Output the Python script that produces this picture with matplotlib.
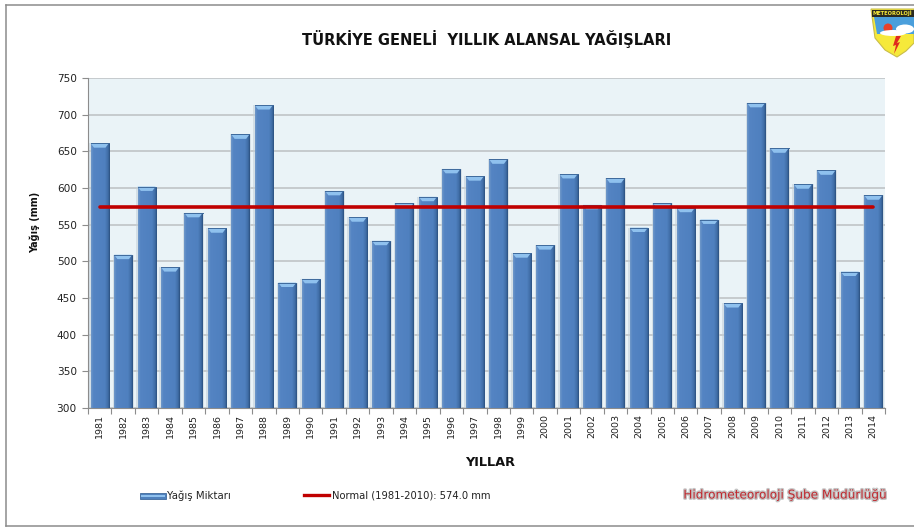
import numpy as np
import matplotlib
matplotlib.use('Agg')
import matplotlib.pyplot as plt
from matplotlib.colors import LinearSegmentedColormap
from matplotlib.patches import Polygon, Rectangle, PathPatch, Ellipse, Circle
from matplotlib.path import Path
import matplotlib.patheffects as pe

# Data
years = list(range(1981, 2015))
rain = [661, 509, 602, 492, 566, 545, 673, 713, 471, 476, 596, 560, 528, 579, 588, 626, 616,
        639, 511, 522, 619, 577, 613, 546, 579, 573, 557, 443, 716, 654, 605, 624, 486, 590]
normal = 574.0
y_ticks = [300, 350, 400, 450, 500, 550, 600, 650, 700, 750]

W, H = 914, 528
plt.rcParams['font.family'] = 'DejaVu Sans'
fig = plt.figure(figsize=(W / 100, H / 100), dpi=100, facecolor='white')


# pixel box (top-left origin) to figure fractions
def box(x0, y0, x1, y1):
    return [x0 / W, 1 - y1 / H, (x1 - x0) / W, (y1 - y0) / H]


# outer chart frame, the right side falls outside the picture
for xs, ys in [((6, 6), (5, 526)), ((6, 914), (5, 5)), ((6, 914), (526, 526))]:
    fig.add_artist(plt.Line2D([x / W for x in xs], [1 - y / H for y in ys], transform=fig.transFigure,
                              color='#8c8c8c', linewidth=1.1))

ax = fig.add_axes(box(88, 78, 885, 408))
ax.set_facecolor('#eaf3f7')
ax.set_yticks(y_ticks)
ax.grid(axis='y', color='#bcc0c2', linewidth=1.1, zorder=1)
ax.set_axisbelow(True)
ax.set_xticks(np.arange(len(years)), labels=[str(y) for y in years], rotation=90, fontsize=6.8, color='#222222')
ax.set_xticks(np.arange(len(years) + 1) - 0.5, minor=True)
ax.tick_params(axis='x', which='major', length=0, pad=4)
ax.tick_params(axis='x', which='minor', length=4, color='#8c8c8c', width=0.8)
ax.tick_params(axis='y', length=4, color='#8c8c8c', width=0.8, labelsize=7.6, labelcolor='#222222', pad=4)
for name in ['top', 'right']:
    ax.spines[name].set_visible(False)
for name in ['left', 'bottom']:
    ax.spines[name].set_color('#8c8c8c')
    ax.spines[name].set_linewidth(0.8)

# bars with a sideways shade and a light cap
shade = LinearSegmentedColormap.from_list('bar', [(0, '#6d96c8'), (0.12, '#5484c3'), (0.75, '#4f80bf'),
                                                  (0.92, '#3f6ca4'), (1, '#2d5382')])
grad = np.linspace(0, 1, 32).reshape(1, -1)
cap = 6.0
values = np.array(rain) - 300
ax.bar(range(len(years)), values, bottom=300, width=0.9, color='#c3d0d8', alpha=0.55, zorder=1.5)
bars = ax.bar(range(len(years)), values, bottom=300, width=0.77, color='#4f81bd', zorder=2)
for b in bars:
    x0, x1 = b.get_x(), b.get_x() + b.get_width()
    top = b.get_y() + b.get_height()
    im = ax.imshow(grad, extent=(x0, x1, 300, top), aspect='auto', cmap=shade, zorder=3)
    im.set_clip_path(b)
    inset = 0.18 * (x1 - x0)
    ax.add_patch(Polygon([(x0, top), (x1, top), (x1 - inset, top - cap), (x0 + inset, top - cap)],
                         closed=True, facecolor='#8fc1ee', edgecolor='none', zorder=4))
    ax.plot([x0, x1], [top, top], color='#3f6a9c', linewidth=0.7, zorder=5)
ax.set_xlim(-0.5, len(years) - 0.5)
ax.set_ylim(300, 750)

ax.plot([0, len(years) - 1], [normal, normal], color='#c00000', linewidth=2.6, solid_capstyle='round', zorder=6)


def ftext(x, y, s, **kw):
    return fig.text(x / W, 1 - y / H, s, va='center', **kw)


ftext(35, 222, 'Yağış (mm)', ha='center', rotation=90, fontsize=7.0, fontweight='bold', color='#111111')
ftext(487, 39, 'TÜRKİYE GENELİ  YILLIK ALANSAL YAĞIŞLARI', ha='center', fontsize=10.5,
      fontweight='bold', color='#111111')
ftext(490, 463, 'YILLAR', ha='center', fontsize=9.3, fontweight='bold', color='#111111')

# legend by hand so it sits like the original
fig.add_artist(Rectangle((140 / W, 1 - 499 / H), 26 / W, 6 / H, transform=fig.transFigure,
                         facecolor='#4f81bd', edgecolor='#3f6a9c', linewidth=0.6))
fig.add_artist(Rectangle((141 / W, 1 - 496.5 / H), 24 / W, 1.5 / H, transform=fig.transFigure,
                         facecolor='#8fc1ee', edgecolor='none'))
ftext(167, 496, 'Yağış Miktarı', ha='left', fontsize=7.3, color='#222222')
fig.add_artist(plt.Line2D([304 / W, 329 / W], [1 - 495 / H, 1 - 495 / H], transform=fig.transFigure,
                          color='#c00000', linewidth=2.4))
ftext(332, 496, 'Normal (1981-2010): 574.0 mm', ha='left', fontsize=7.2, color='#222222')

t = ftext(785.5, 495, 'Hidrometeoroloji Şube Müdürlüğü', ha='center', fontsize=8.7, color='#c0272d')
t.set_path_effects([pe.withStroke(linewidth=2, foreground='#c4c4c4')])

# logo in the top right corner, cut by the picture edge
logo = fig.add_axes([0, 0, 1, 1], facecolor='none')
logo.set_xlim(0, W)
logo.set_ylim(H, 0)
logo.axis('off')
shield = Path([(871, 9), (914, 9), (914, 43), (906, 51), (897, 57), (885, 50), (875, 38), (871, 9)],
              [Path.MOVETO, Path.LINETO, Path.LINETO, Path.LINETO, Path.LINETO, Path.LINETO, Path.LINETO,
               Path.CLOSEPOLY])
logo.add_patch(PathPatch(shield, facecolor='#f6e93a', edgecolor='#c9bd4a', linewidth=0.8))
logo.add_patch(Rectangle((872, 10), 42, 7, facecolor='#2a2a20', edgecolor='none'))
logo.add_patch(Polygon([(874, 17), (914, 17), (914, 34), (877, 34)], closed=True, facecolor='#4a9fdc',
                       edgecolor='none'))
logo.add_patch(Circle((888, 28), 4.5, facecolor='#e8412a', edgecolor='none'))
logo.add_patch(Ellipse((893, 33), 26, 6, facecolor='white', edgecolor='none'))
logo.add_patch(Ellipse((905, 29), 18, 9, facecolor='white', edgecolor='none'))
logo.add_patch(Polygon([(896, 36), (893, 46), (896, 45), (894, 54), (900, 42), (897, 43), (901, 36)],
                       closed=True, facecolor='#e02a1e', edgecolor='none'))
logo.text(872.5, 13.5, 'METEOROLOJİ', fontsize=3.7, fontweight='bold', color='#f6e93a', va='center', ha='left')

fig.savefig('out.png', dpi=100)
